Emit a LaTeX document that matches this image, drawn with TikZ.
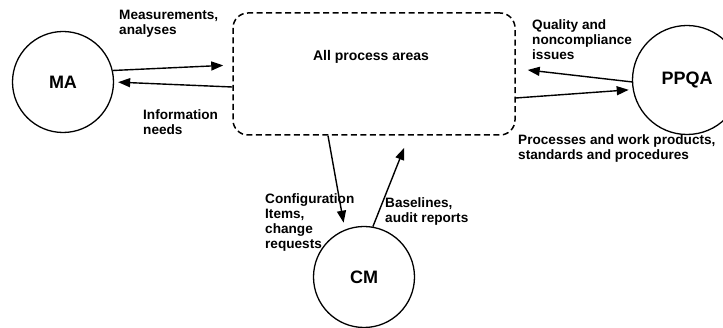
\documentclass[tikz,border=0pt]{standalone}
\usepackage{fontspec}
\setmainfont{Liberation Sans}
\usetikzlibrary{arrows.meta}
\begin{document}
\begin{tikzpicture}[x=1pt,y=-1pt,
  lbl/.style={font=\bfseries\fontsize{13.6}{15}\selectfont, align=left, anchor=north west, inner sep=0pt},
  pa/.style={circle, draw, line width=1.3pt, inner sep=0pt, font=\bfseries\fontsize{18}{20}\selectfont},
  arr/.style={line width=1.4pt, -{Triangle[length=12pt,width=9pt]}},
  areabox/.style={draw, line width=1.5pt, dash pattern=on 6pt off 3.5pt, rounded corners=15pt, inner sep=0pt},
]
\fill[white] (0,0) rectangle (723,328);
\useasboundingbox (0,0) rectangle (723,328);

\node[areabox, minimum width=282pt, minimum height=122pt] (box) at (374,74) {};
\node[font=\bfseries\fontsize{14}{16}\selectfont, inner sep=0pt] (apa) at (371,57) {All process areas};

\node[pa, minimum size=101pt] (MA) at (63,82) {MA};
\node[pa, minimum size=109pt] (PPQA) at (687,80) {PPQA};
\node[pa, minimum size=101pt] (CM) at (364,277) {CM};

% MA
\draw[arr, shorten >=9pt] (MA.13) -- ([yshift=9pt]box.west);
\draw[arr, shorten >=4pt] ([yshift=-13pt]box.west) -- (MA.east);
% CM
\draw[arr, shorten >=7pt] ([xshift=-46pt]box.south) -- (CM.112);
\draw[arr, shorten >=13pt] (CM.80) -- ([xshift=35pt]box.south);
% PPQA
\draw[arr, shorten >=12pt] (PPQA.182) -- ([yshift=5.4pt]box.east);
\draw[arr, shorten >=4pt] ([yshift=-24pt]box.east) -- (PPQA.190);

\node[lbl] (meas) at (119,10) {Measurements,\\analyses};
\node[lbl] (info) at (143,109) {Information\\needs};
\node[lbl] (qual) at (532,19) {Quality and\\noncompliance\\issues};
\node[lbl] (proc) at (518,134) {Processes and work products,\\standards and procedures};
\node[lbl] (conf) at (265,193) {Configuration\\Items,\\change\\requests};
\node[lbl] (base) at (385,197) {Baselines,\\audit reports};
\end{tikzpicture}
\end{document}
